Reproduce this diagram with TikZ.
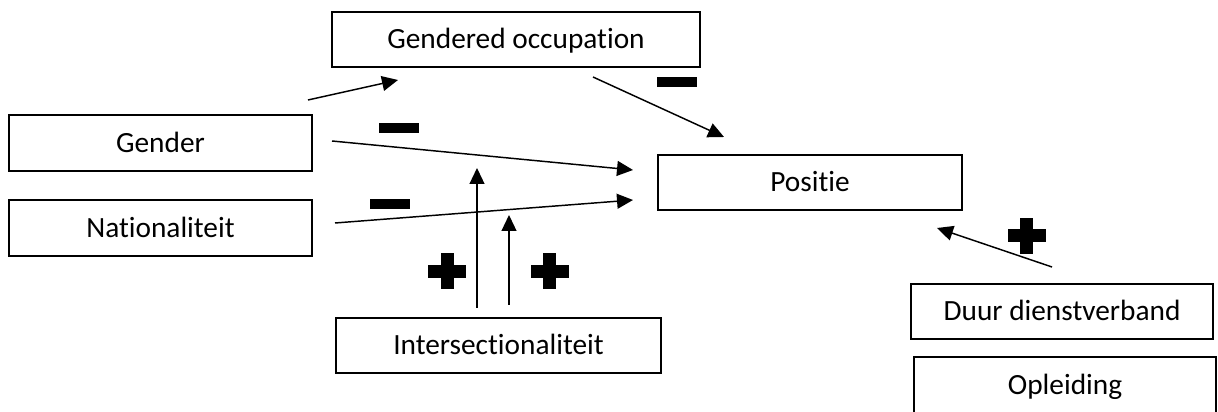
\documentclass[tikz,border=0pt]{standalone}
\usepackage{fontspec}
\setmainfont{Carlito}[Ligatures={NoCommon,NoContextual,NoRare}]
\usetikzlibrary{arrows.meta}
\tikzset{
  box/.style={draw, line width=0.7pt, minimum width={#1*0.375pt}, minimum height={55*0.375pt},
    inner sep=0pt, text height=7.1pt, text depth=0pt, font=\fontsize{11}{13}\selectfont},
  arr/.style={-{Triangle[length=6pt,width=5.6pt]}, line width=0.55pt},
  plussign/.pic={\fill (-19,-6.5) rectangle (19,6.5); \fill (-6.5,-18) rectangle (6.5,18);},
  minussign/.pic={\fill (-20,-5) rectangle (20,5);}
}
\begin{document}
\begin{tikzpicture}[x=0.375pt,y=-0.375pt]
\clip (0,0) rectangle (1218,412);
\fill[white] (0,0) rectangle (1218,412);
% boxes
\node[box=368] (go) at (516,39.5) {Gendered occupation};
\node[box=303, minimum height={56*0.375pt}] (gender) at (160.5,143) {Gender};
\node[box=303, minimum height={56*0.375pt}] (nat) at (160.5,228) {Nationaliteit};
\node[box=304] (pos) at (810,182.5) {Positie};
\node[box=325] (inter) at (498.5,345.5) {Intersectionaliteit};
\node[box=302] (duur) at (1062,311.5) {Duur dienstverband};
\node[box=302, minimum height={57*0.375pt}] (opl) at (1065,385.5) {Opleiding};
% connector end points
\coordinate (a1s) at (308,100);  \coordinate (a1e) at (398,80);
\coordinate (a2s) at (593,77);   \coordinate (a2e) at (724,137);
\coordinate (a3s) at (332,141);  \coordinate (a3e) at (633,170);
\coordinate (a4s) at (335,223);  \coordinate (a4e) at (633,200);
\coordinate (a5s) at (477,308);  \coordinate (a5e) at (477,168);
\coordinate (a6s) at (509,305);  \coordinate (a6e) at (509,215);
\coordinate (a7s) at (1052,267); \coordinate (a7e) at (937,228);
\draw[arr] (a1s) -- (a1e);
\draw[arr] (a2s) -- (a2e);
\draw[arr] (a3s) -- (a3e);
\draw[arr] (a4s) -- (a4e);
\draw[arr] (a5s) -- (a5e);
\draw[arr] (a6s) -- (a6e);
\draw[arr] (a7s) -- (a7e);
% signs
\pic at (677,82) {minussign};
\pic at (399,128.5) {minussign};
\pic at (390,204) {minussign};
\pic at (447,271.5) {plussign};
\pic at (549.5,271.5) {plussign};
\pic at (1026.5,236) {plussign};
\end{tikzpicture}
\end{document}
